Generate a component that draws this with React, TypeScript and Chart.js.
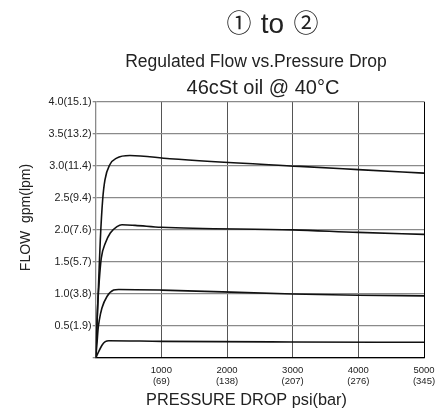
import React, { useEffect, useRef } from "react";
import { Chart, registerables } from "chart.js";

Chart.register(...registerables);

// ---- Data ----
const curve1Psi = [0, 46, 70, 106, 141, 217, 319, 521, 1129, 3105, 4000, 5000];
const curve1Flow = [0, 1.22, 1.84, 2.47, 2.78, 3.02, 3.12, 3.16, 3.11, 2.99, 2.94, 2.885];

const curve2Psi = [0, 27, 55, 85, 146, 222, 324, 400, 600, 1000, 3000, 4000, 5000];
const curve2Flow = [0, 0.75, 1.22, 1.56, 1.79, 1.95, 2.05, 2.08, 2.07, 2.04, 2.0, 1.96, 1.93];

const curve3Psi = [0, 20, 35, 55, 95, 172, 273, 350, 1000, 3000, 4000, 5000];
const curve3Flow = [0, 0.23, 0.44, 0.59, 0.78, 0.96, 1.06, 1.07, 1.06, 1.0, 0.98, 0.97];

const curve4Psi = [0, 45, 96, 146, 200, 1000, 3000, 5000];
const curve4Flow = [0, 0.1, 0.2, 0.255, 0.27, 0.26, 0.25, 0.245];

const xTickPsi = ["1000", "2000", "3000", "4000", "5000"];
const xTickBar = ["(69)", "(138)", "(207)", "(276)", "(345)"];
const yTickLabels = ["", "0.5(1.9)", "1.0(3.8)", "1.5(5.7)", "2.0(7.6)", "2.5(9.4)", "3.0(11.4)", "3.5(13.2)", "4.0(15.1)"];

const titlePortFrom = "\u2460";
const titleJoin = "to";
const titlePortTo = "\u2461";
const titleLine2 = "Regulated Flow vs.Pressure Drop";
const titleLine3 = "46cSt oil @ 40\u00B0C";
const xAxisTitle = "PRESSURE DROP psi(bar)";
const yAxisTitle = "FLOW  gpm(lpm)";

const FONT = "'Liberation Sans', Arial, Helvetica, sans-serif";
const CIRCLE_FONT = "'Noto Sans CJK JP', 'DejaVu Sans', sans-serif";
const TEXT = "#222";

function pts(xs: number[], ys: number[]) {
  return xs.map((x, i) => ({ x, y: ys[i] }));
}

const textPlugin = {
  id: "textPlugin",
  afterDraw(chart: any) {
    const ctx = chart.ctx as CanvasRenderingContext2D;
    ctx.save();
    ctx.fillStyle = TEXT;
    ctx.textAlign = "center";
    ctx.textBaseline = "middle";
    ctx.font = `25px ${CIRCLE_FONT}`;
    ctx.fillText(titlePortFrom, 239, 22.5);
    ctx.fillText(titlePortTo, 306, 22.5);
    ctx.textBaseline = "alphabetic";
    ctx.font = `28px ${FONT}`;
    ctx.fillText(titleJoin, 272.5, 33.3);
    ctx.font = `17.5px ${FONT}`;
    ctx.fillText(titleLine2, 256, 67);
    ctx.font = `20px ${FONT}`;
    ctx.fillText(titleLine3, 263, 94);
    ctx.font = `16.3px ${FONT}`;
    ctx.fillText(xAxisTitle, 246.5, 405);
    ctx.textBaseline = "middle";
    ctx.translate(26, 217.5);
    ctx.rotate(-Math.PI / 2);
    ctx.font = `14px ${FONT}`;
    ctx.fillText(yAxisTitle, 0, 0);
    ctx.restore();
  },
};

export default function App() {
  const ref = useRef<HTMLCanvasElement | null>(null);

  useEffect(() => {
    if (!ref.current) return;
    const series = [
      pts(curve1Psi, curve1Flow),
      pts(curve2Psi, curve2Flow),
      pts(curve3Psi, curve3Flow),
      pts(curve4Psi, curve4Flow),
    ];
    const chart = new Chart(ref.current, {
      type: "line",
      data: {
        datasets: series.map((d) => ({
          data: d,
          borderColor: "#111",
          borderWidth: 1.6,
          pointRadius: 0,
          fill: false,
          cubicInterpolationMode: "monotone" as const,
        })),
      },
      options: {
        animation: false,
        responsive: true,
        maintainAspectRatio: false,
        layout: { padding: { top: 101.7, right: 24, left: 0, bottom: 0 } },
        plugins: {
          legend: { display: false },
          tooltip: { enabled: false },
          title: { display: false },
        },
        scales: {
          x: {
            type: "linear",
            min: 0,
            max: 5000,
            ticks: {
              stepSize: 1000,
              autoSkip: false,
              maxRotation: 0,
              padding: 6,
              color: TEXT,
              font: { size: 9.5, family: FONT, lineHeight: 1.25 },
              callback: (v: any) => {
                const i = Math.round(Number(v) / 1000) - 1;
                return i < 0 ? "" : [xTickPsi[i], xTickBar[i]];
              },
            },
            grid: {
              drawTicks: false,
              lineWidth: 1,
              color: (c: any) =>
                c.tick && c.tick.value === 5000 ? "#000" : c.tick && c.tick.value === 0 ? "#888" : "#555",
            },
            border: { color: "#000", width: 1.3 },
            afterFit: (s: any) => {
              s.height = 51;
            },
          },
          y: {
            type: "linear",
            min: 0,
            max: 4,
            ticks: {
              stepSize: 0.5,
              autoSkip: false,
              padding: 1,
              color: TEXT,
              font: { size: 10.8, family: FONT },
              callback: (_v: any, i: number) => yTickLabels[i] ?? "",
            },
            grid: { color: "#8a8a8a", lineWidth: 1.3, tickLength: 3 },
            border: { color: "#8a8a8a", width: 1.3 },
            afterFit: (s: any) => {
              s.width = 95.7;
            },
          },
        },
      },
      plugins: [textPlugin],
    });
    return () => chart.destroy();
  }, []);

  return (
    <div style={{ position: "fixed", left: 0, top: 0, width: 448, height: 409, background: "#fff" }}>
      <canvas ref={ref} />
    </div>
  );
}
